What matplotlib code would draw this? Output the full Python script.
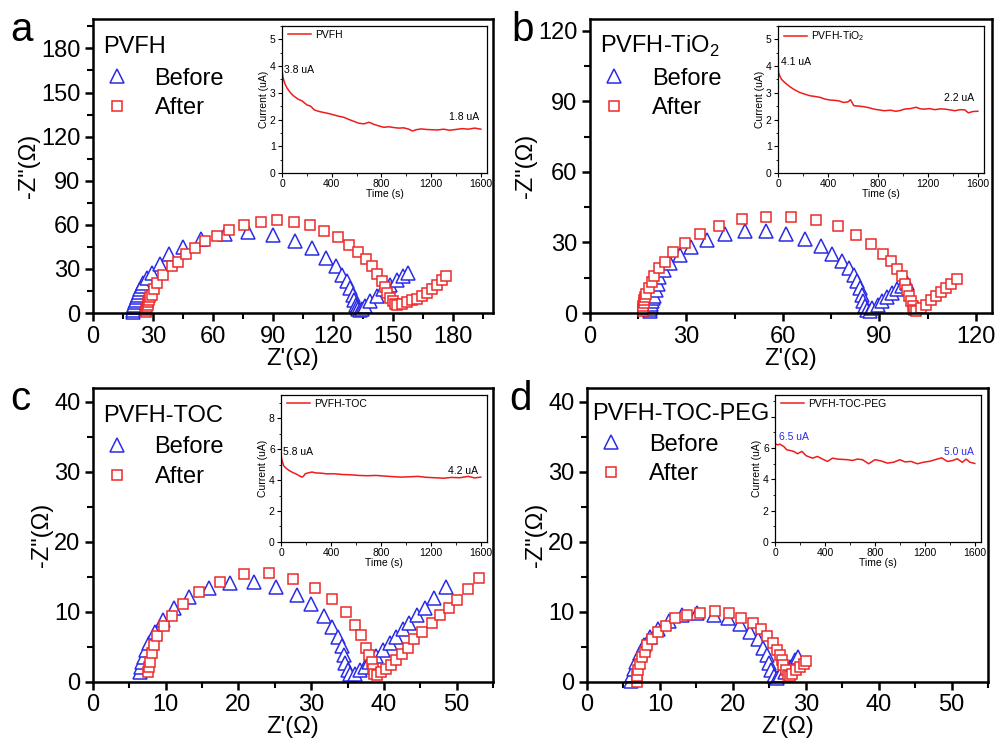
import matplotlib
matplotlib.use('Agg')
import matplotlib.pyplot as plt
from matplotlib.ticker import MultipleLocator

plt.rcParams['font.family'] = ['Liberation Sans', 'DejaVu Sans']
plt.rcParams['mathtext.fontset'] = 'custom'
plt.rcParams['mathtext.rm'] = 'Liberation Sans'

BLUE = '#2b2be6'
RED = '#ec2a2a'

# ---- Nyquist data, panel a (PVFH)
a_before_x = [19.8, 19.9, 20.2, 20.5, 20.9, 21.3, 21.8, 22.3, 22.9, 23.5, 24.3, 25.2, 27.0, 29.3, 33.5, 38.0,
              44.8, 54.0, 66.0, 77.7, 90.0, 101.0, 109.7, 116.5, 121.5, 124.3, 126.8, 128.5, 129.8, 130.7,
              131.5, 132.2, 132.7, 133.5, 134.5, 136.0, 138.5, 141.8, 145.0, 148.5, 151.8, 155.0, 157.7]
a_before_y = [0.8, 2.3, 4.0, 5.7, 7.4, 9.0, 10.8, 12.5, 14.5, 16.4, 18.5, 20.5, 23.8, 27.0, 33.0, 40.0,
              44.8, 50.5, 54.0, 55.0, 53.4, 49.0, 44.0, 37.5, 32.0, 26.0, 21.6, 17.0, 12.5, 9.0,
              5.7, 4.0, 3.0, 2.3, 2.5, 4.5, 8.0, 11.4, 16.0, 19.0, 22.7, 25.0, 27.0]
a_after_x = [26.6, 26.7, 26.9, 27.3, 27.7, 28.2, 28.7, 29.3, 30.5, 31.8, 34.8, 39.3, 42.7, 46.5, 51.0, 56.0,
             61.8, 68.2, 75.7, 83.8, 92.2, 100.3, 108.7, 115.7, 122.5, 128.2, 132.7, 136.5, 139.3, 142.2,
             144.3, 146.0, 147.2, 148.5, 149.8, 151.0, 152.2, 154.3, 156.8, 159.3, 162.0, 164.3, 166.8,
             169.3, 171.8, 174.3, 176.5]
a_after_y = [0.8, 2.3, 4.0, 5.7, 7.4, 9.0, 10.8, 12.5, 16.5, 20.5, 26.0, 32.0, 35.0, 40.0, 44.0, 49.0,
             52.7, 56.8, 60.2, 61.8, 63.0, 62.0, 59.8, 56.0, 51.8, 46.6, 41.6, 37.0, 31.8, 26.8,
             22.0, 17.7, 13.6, 10.2, 8.0, 6.4, 5.7, 6.4, 7.5, 8.6, 9.8, 11.4, 13.6,
             16.4, 19.3, 22.7, 25.0]

# ---- panel b (PVFH-TiO2)
b_before_x = [18.7, 18.8, 18.9, 19.1, 19.3, 19.6, 20.0, 20.5, 21.0, 21.6, 22.9, 25.0, 28.0, 31.4, 36.4, 41.9,
              48.2, 54.6, 61.0, 66.7, 71.7, 75.3, 78.3, 80.5, 82.0, 83.0, 84.0, 84.5, 84.9, 85.4, 86.2,
              87.0, 87.8, 89.4, 90.9, 92.5, 94.0, 95.6, 97.1, 98.7]
b_before_y = [0.7, 1.8, 2.8, 3.9, 5.0, 6.2, 7.4, 9.8, 12.5, 15.3, 18.2, 21.3, 24.7, 28.1, 31.0, 33.4,
              34.8, 34.8, 33.4, 31.5, 28.7, 25.3, 22.0, 19.2, 16.3, 13.5, 10.7, 7.8, 5.0, 2.8, 1.4,
              1.0, 2.1, 3.6, 5.0, 6.8, 8.5, 10.2, 11.6, 12.8]
b_after_x = [16.6, 16.6, 16.6, 16.7, 16.9, 17.2, 17.5, 18.2, 19.2, 20.0, 21.6, 23.4, 25.8, 29.6, 34.3, 40.0,
             47.3, 54.8, 62.6, 70.2, 77.1, 82.8, 87.5, 91.1, 93.5, 95.4, 97.0, 98.0, 98.7, 99.2, 99.7,
             100.3, 100.8, 101.3, 102.9, 104.4, 106.0, 107.5, 109.1, 110.6, 112.2, 114.1]
b_after_y = [0.7, 1.9, 3.1, 4.4, 5.7, 7.0, 8.2, 10.7, 13.0, 15.9, 19.2, 21.6, 26.0, 29.8, 33.7, 37.2,
             39.8, 41.0, 41.0, 39.5, 36.8, 33.1, 29.4, 25.3, 22.0, 18.8, 15.6, 12.5, 9.7, 7.1, 5.0,
             2.8, 1.4, 0.7, 2.1, 3.6, 5.7, 7.4, 9.1, 10.8, 12.5, 14.5]

# ---- panel c (PVFH-TOC)
c_before_x = [6.5, 6.6, 6.8, 7.0, 7.3, 7.7, 8.5, 9.6, 11.2, 13.2, 15.9, 18.9, 22.1, 25.2, 28.0, 30.0,
              31.7, 32.9, 33.7, 34.2, 34.5, 34.7, 35.1, 35.4, 36.0, 36.7, 37.4, 38.0, 38.9, 39.9, 40.8,
              41.7, 42.6, 43.5, 44.5, 45.7, 46.9, 48.5]
c_before_y = [1.4, 2.1, 2.9, 3.6, 4.5, 5.5, 7.2, 8.9, 10.6, 12.2, 13.4, 14.2, 14.3, 13.6, 12.4, 11.1,
              9.4, 7.9, 6.4, 5.1, 3.8, 2.7, 1.7, 1.1, 1.2, 1.7, 2.1, 2.9, 3.7, 4.5, 5.5,
              6.4, 7.5, 8.4, 9.5, 10.6, 12.0, 13.6]
c_after_x = [7.5, 7.7, 7.9, 8.1, 8.4, 8.8, 9.7, 10.9, 12.4, 14.6, 17.4, 20.8, 24.2, 27.5, 30.5, 32.9,
             34.8, 36.0, 36.8, 37.5, 38.0, 38.3, 38.5, 38.7, 39.0, 39.6, 40.3, 41.0, 41.7, 42.5, 43.3,
             44.2, 45.3, 46.6, 47.7, 48.9, 50.1, 51.6, 53.1]
c_after_y = [1.4, 2.1, 2.9, 4.1, 5.3, 6.6, 8.0, 9.4, 11.2, 12.9, 14.3, 15.4, 15.5, 14.7, 13.4, 11.8,
             10.0, 8.2, 6.7, 4.8, 3.8, 2.9, 1.9, 1.2, 1.0, 1.4, 1.9, 2.4, 3.1, 4.0, 4.9,
             6.1, 7.2, 8.4, 9.6, 10.6, 11.7, 13.3, 14.8]

# ---- panel d (PVFH-TOC-PEG)
d_before_x = [6.0, 6.2, 6.4, 6.7, 7.2, 7.8, 8.6, 9.7, 11.2, 13.0, 15.1, 17.4, 19.4, 21.0, 22.4, 23.4,
              24.2, 24.7, 25.0, 25.3, 25.7, 26.1, 26.5, 27.2, 27.9, 28.5, 29.0]
d_before_y = [0.1, 1.0, 1.9, 2.9, 4.1, 5.3, 6.4, 7.6, 8.7, 9.5, 9.8, 9.6, 9.1, 8.3, 7.2, 6.1,
              4.9, 3.8, 2.7, 1.7, 0.8, 0.6, 1.0, 1.4, 2.1, 3.1, 3.6]
d_after_x = [6.8, 6.8, 7.0, 7.2, 7.5, 8.0, 8.2, 8.9, 9.8, 10.9, 12.1, 13.7, 15.5, 17.5, 19.5, 21.1,
             22.7, 23.8, 24.7, 25.5, 26.0, 26.4, 26.7, 26.9, 27.3, 27.5, 27.8, 28.1, 28.7, 29.2,
             29.7, 30.0]
d_after_y = [0.0, 0.8, 1.7, 2.6, 3.6, 4.3, 5.3, 6.2, 7.2, 8.0, 9.1, 9.5, 9.9, 10.2, 9.8, 9.2,
             8.4, 7.5, 6.5, 5.6, 4.6, 3.8, 3.1, 2.4, 1.7, 1.0, 0.8, 1.2, 1.7, 2.1,
             2.6, 3.0]

# ---- inset current vs time
a_t = [0, 4, 8, 15, 25, 40, 60, 80, 100, 130, 160, 200, 230, 260, 300, 340, 380, 420, 460, 500, 540,
       580, 620, 660, 700, 740, 780, 820, 860, 900, 940, 980, 1020, 1050, 1080, 1120, 1160, 1200, 1250,
       1300, 1350, 1400, 1450, 1500, 1550, 1600]
a_i = [3.85, 3.70, 3.58, 3.45, 3.32, 3.18, 3.05, 2.94, 2.86, 2.76, 2.70, 2.55, 2.50, 2.36, 2.30, 2.26,
       2.22, 2.17, 2.12, 2.08, 2.00, 1.93, 1.86, 1.84, 1.90, 1.82, 1.76, 1.71, 1.73, 1.70, 1.68, 1.69,
       1.64, 1.57, 1.62, 1.65, 1.63, 1.62, 1.61, 1.64, 1.60, 1.63, 1.66, 1.64, 1.68, 1.64]
b_t = [0, 5, 15, 27, 50, 94, 130, 175, 215, 256, 300, 337, 380, 418, 450, 486, 526, 560, 580, 607,
       650, 688, 730, 769, 810, 850, 900, 944, 980, 1012, 1060, 1106, 1140, 1174, 1215, 1255, 1300,
       1335, 1380, 1416, 1460, 1497, 1524, 1560, 1600]
b_i = [4.05, 3.75, 3.62, 3.51, 3.40, 3.23, 3.12, 3.01, 2.95, 2.89, 2.86, 2.83, 2.76, 2.73, 2.72, 2.70,
       2.64, 2.66, 2.74, 2.52, 2.50, 2.48, 2.44, 2.39, 2.36, 2.33, 2.35, 2.31, 2.34, 2.39, 2.41, 2.46,
       2.40, 2.39, 2.41, 2.37, 2.40, 2.39, 2.36, 2.33, 2.37, 2.36, 2.25, 2.30, 2.31]
c_t = [0, 3, 8, 19, 30, 46, 65, 86, 105, 127, 150, 167, 180, 194, 220, 248, 280, 315, 370, 423, 490,
       558, 620, 692, 760, 827, 900, 962, 1030, 1096, 1160, 1231, 1300, 1366, 1430, 1500, 1550, 1600]
c_i = [5.81, 5.45, 5.27, 4.95, 4.85, 4.73, 4.62, 4.52, 4.45, 4.37, 4.26, 4.19, 4.25, 4.41, 4.47, 4.52,
       4.46, 4.45, 4.40, 4.41, 4.36, 4.34, 4.30, 4.28, 4.30, 4.26, 4.22, 4.19, 4.21, 4.24, 4.18, 4.15,
       4.12, 4.17, 4.15, 4.24, 4.14, 4.19]
d_t = [0, 20, 40, 70, 95, 120, 150, 180, 215, 250, 270, 300, 340, 380, 420, 460, 500, 540, 580, 620,
       660, 700, 750, 800, 850, 900, 950, 1000, 1040, 1090, 1140, 1190, 1240, 1290, 1335, 1380, 1420,
       1460, 1500, 1530, 1560, 1600]
d_i = [6.28, 6.21, 6.25, 6.10, 5.89, 5.85, 5.79, 5.64, 5.79, 5.51, 5.45, 5.36, 5.47, 5.30, 5.15, 5.36,
       5.30, 5.28, 5.26, 5.21, 5.30, 5.26, 5.00, 5.26, 5.18, 5.04, 5.10, 5.26, 5.12, 5.15, 5.00, 5.10,
       5.16, 5.28, 5.38, 5.15, 5.20, 5.32, 5.09, 5.30, 5.10, 5.02]

labels = ['PVFH', 'PVFH-TiO$_2$', 'PVFH-TOC', 'PVFH-TOC-PEG']
letters = ['a', 'b', 'c', 'd']
ann_start = ['3.8 uA', '4.1 uA', '5.8 uA', '6.5 uA']
ann_end = ['1.8 uA', '2.2 uA', '4.2 uA', '5.0 uA']

fig = plt.figure(figsize=(9.98, 7.49), dpi=100)

main_pos = [[0.0932, 0.5821, 0.4008, 0.3925], [0.5912, 0.5821, 0.4028, 0.3925],
            [0.0932, 0.0895, 0.4008, 0.3925], [0.5882, 0.0895, 0.4018, 0.3925]]
inset_pos = [[0.2826, 0.769, 0.2054, 0.1963], [0.7796, 0.769, 0.2064, 0.1963],
             [0.2816, 0.2764, 0.2064, 0.1963], [0.7766, 0.2764, 0.2064, 0.1963]]
lims = [(200, 200, 30, 15), (125, 125, 30, 15), (55, 42, 10, 5), (55, 42, 10, 5)]
inset_ylim = [(5.5, 1, 0.5), (5.5, 1, 0.5), (9.5, 2, 1), (9.4, 2, 1)]
ann_start_pos = [(16, 3.76), (22, 4.04), (19, 5.6), (35, 6.53)]
ann_end_pos = [(1344, 1.97), (1330, 2.7), (1339, 4.37), (1352, 5.57)]
ann_color = ['black', 'black', 'black', BLUE]
text_pos = [(0.025, 0.884), (0.025, 0.884), (0.025, 0.884), (0.012, 0.891)]
legend_anchor = [(0.03, 0.835), (0.03, 0.835), (0.03, 0.835), (0.03, 0.845)]
letter_pos = [(0.010, 0.945), (0.512, 0.945), (0.010, 0.452), (0.510, 0.452)]

nyq = [(a_before_x, a_before_y, a_after_x, a_after_y), (b_before_x, b_before_y, b_after_x, b_after_y),
       (c_before_x, c_before_y, c_after_x, c_after_y), (d_before_x, d_before_y, d_after_x, d_after_y)]
cur = [(a_t, a_i), (b_t, b_i), (c_t, c_i), (d_t, d_i)]

for k in range(4):
    ax = fig.add_axes(main_pos[k])
    bx, by, fx, fy = nyq[k]
    ax.plot(bx, by, linestyle='none', marker='^', ms=9.5, mfc='white', mec=BLUE, mew=1.1,
            label='Before', clip_on=False)
    ax.plot(fx, fy, linestyle='none', marker='s', ms=7.5, mfc='white', mec=RED, mew=1.1,
            label='After', clip_on=False)
    xm, ym, maj, mnr = lims[k]
    ax.set_xlim(0, xm)
    ax.set_ylim(0, ym)
    ax.xaxis.set_major_locator(MultipleLocator(maj))
    ax.xaxis.set_minor_locator(MultipleLocator(mnr))
    ax.yaxis.set_major_locator(MultipleLocator(maj))
    ax.yaxis.set_minor_locator(MultipleLocator(mnr))
    ax.tick_params(which='major', direction='out', length=6, width=1.8, labelsize=17, pad=3)
    ax.tick_params(which='minor', direction='out', length=4, width=1.5)
    for s in ax.spines.values():
        s.set_linewidth(1.8)
        s.set_zorder(3)
    ax.set_xlabel("Z'(\u03a9)", fontsize=17, labelpad=0)
    ax.set_ylabel('-Z"(\u03a9)', fontsize=17, labelpad=1)
    ax.text(text_pos[k][0], text_pos[k][1], labels[k], transform=ax.transAxes, fontsize=17, va='baseline')
    ax.legend(loc='upper left', bbox_to_anchor=legend_anchor[k], frameon=False, fontsize=17,
              handlelength=1.0, handletextpad=1.1, labelspacing=0.33, borderpad=0, borderaxespad=0)
    fig.text(letter_pos[k][0], letter_pos[k][1], letters[k], fontsize=29)

    ins = fig.add_axes(inset_pos[k])
    t, i = cur[k]
    ins.plot(t, i, color='#ee1c1c', lw=1.1, label=labels[k])
    ins.set_xlim(0, 1650)
    ins.set_ylim(0, inset_ylim[k][0])
    ins.xaxis.set_major_locator(MultipleLocator(400))
    ins.xaxis.set_minor_locator(MultipleLocator(200))
    ins.yaxis.set_major_locator(MultipleLocator(inset_ylim[k][1]))
    ins.yaxis.set_minor_locator(MultipleLocator(inset_ylim[k][2]))
    ins.tick_params(which='major', direction='out', length=3, width=0.8, labelsize=7.5, pad=1.5)
    ins.tick_params(which='minor', direction='out', length=1.8, width=0.6)
    for s in ins.spines.values():
        s.set_linewidth(0.9)
    if k == 3:
        ins.set_yticks([0, 2, 4, 6, 8])
        ins.set_yticklabels(['0', '2', '4', '6', ''])
    ins.set_xlabel('Time (s)', fontsize=7.5, labelpad=0)
    ins.set_ylabel('Current (uA)', fontsize=7.5, labelpad=1)
    ins.text(ann_start_pos[k][0], ann_start_pos[k][1], ann_start[k], fontsize=7.5, color=ann_color[k])
    ins.text(ann_end_pos[k][0], ann_end_pos[k][1], ann_end[k], fontsize=7.5, color=ann_color[k])
    ins.legend(loc='upper left', bbox_to_anchor=(0.02, 0.99), frameon=False, fontsize=7.5,
               handlelength=2.2, handletextpad=0.4, borderpad=0.2, borderaxespad=0)

fig.savefig('out.png', dpi=100)
